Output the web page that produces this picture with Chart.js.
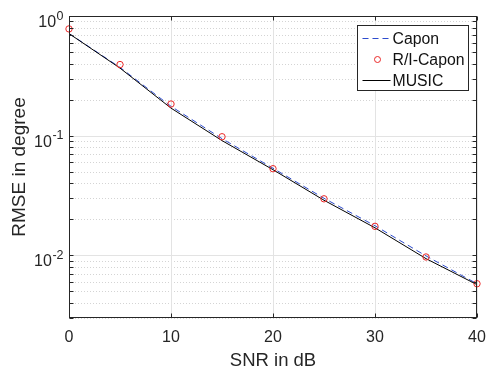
<!DOCTYPE html>
<html>
<head>
<meta charset="utf-8">
<script src="https://cdn.jsdelivr.net/npm/chart.js@4"></script>
<style>
  html, body { margin: 0; padding: 0; background: #fff; }
  #chart { display: block; }
</style>
</head>
<body>
<canvas id="chart" width="487" height="368"></canvas>
<script>
// data
const snr = [0, 5, 10, 15, 20, 25, 30, 35, 40];
const capon = [0.715, 0.372, 0.176, 0.0945, 0.0535, 0.0300, 0.0177, 0.0099, 0.0058];
const riCapon = [0.78, 0.393, 0.184, 0.098, 0.053, 0.0297, 0.0175, 0.0097, 0.0058];
const music = [0.713, 0.367, 0.170, 0.091, 0.052, 0.0289, 0.0170, 0.0094, 0.0057];
const xTicks = [0, 10, 20, 30, 40];
const yDecades = [-2, -1, 0];

const FONT = '"Liberation Sans", Arial, Helvetica, sans-serif';
const AXIS = '#262626';

function toPoints(xs, ys) {
  return xs.map((x, i) => ({ x: x, y: ys[i] }));
}

// minor log positions (2..9 x decade) inside the axis range
function minorValues(scale) {
  const out = [];
  for (let d = -3; d <= 0; d++) {
    for (let m = 2; m <= 9; m++) {
      const v = m * Math.pow(10, d);
      if (v >= scale.min && v <= scale.max) out.push(v);
    }
  }
  return out;
}

// grid, ticks, labels, legend in matlab style
const matlabAxes = {
  id: 'matlabAxes',
  beforeDatasetsDraw(chart) {
    const ctx = chart.ctx;
    const area = chart.chartArea;
    const xs = chart.scales.x;
    const ys = chart.scales.y;
    ctx.save();
    // minor grid (dotted)
    ctx.strokeStyle = '#d4d4d4';
    ctx.lineWidth = 1;
    ctx.setLineDash([1, 2]);
    minorValues(ys).forEach(v => {
      const py = Math.round(ys.getPixelForValue(v)) + 0.5;
      ctx.beginPath();
      ctx.moveTo(area.left, py);
      ctx.lineTo(area.right, py);
      ctx.stroke();
    });
    // major grid
    ctx.setLineDash([]);
    ctx.strokeStyle = '#e3e3e3';
    yDecades.forEach(d => {
      const py = Math.round(ys.getPixelForValue(Math.pow(10, d))) + 0.5;
      ctx.beginPath();
      ctx.moveTo(area.left, py);
      ctx.lineTo(area.right, py);
      ctx.stroke();
    });
    xTicks.forEach(v => {
      const px = Math.round(xs.getPixelForValue(v)) + 0.5;
      ctx.beginPath();
      ctx.moveTo(px, area.top);
      ctx.lineTo(px, area.bottom);
      ctx.stroke();
    });
    ctx.restore();
  },
  afterDatasetsDraw(chart) {
    const ctx = chart.ctx;
    const area = chart.chartArea;
    const xs = chart.scales.x;
    const ys = chart.scales.y;
    const L = Math.round(area.left) + 0.5, R = Math.round(area.right) - 0.5;
    const T = Math.round(area.top) + 0.5, B = Math.round(area.bottom) - 0.5;
    ctx.save();
    ctx.strokeStyle = AXIS;
    ctx.lineWidth = 1;
    ctx.strokeRect(L, T, R - L, B - T);
    // tick marks pointing inwards
    const yTickVals = minorValues(ys).concat(yDecades.map(d => Math.pow(10, d)));
    yTickVals.forEach(v => {
      const py = Math.round(ys.getPixelForValue(v)) + 0.5;
      ctx.beginPath();
      ctx.moveTo(L, py); ctx.lineTo(L + 4, py);
      ctx.moveTo(R, py); ctx.lineTo(R - 4, py);
      ctx.stroke();
    });
    xTicks.forEach(v => {
      const px = Math.round(xs.getPixelForValue(v)) + 0.5;
      ctx.beginPath();
      ctx.moveTo(px, B); ctx.lineTo(px, B - 4);
      ctx.moveTo(px, T); ctx.lineTo(px, T + 4);
      ctx.stroke();
    });

    // tick labels
    ctx.fillStyle = AXIS;
    ctx.font = '16px ' + FONT;
    ctx.textAlign = 'center';
    ctx.textBaseline = 'alphabetic';
    xTicks.forEach(v => {
      ctx.fillText(String(v), xs.getPixelForValue(v), 342);
    });
    yDecades.forEach(d => {
      const py = ys.getPixelForValue(Math.pow(10, d));
      const exp = String(d);
      ctx.font = '12.5px ' + FONT;
      ctx.textAlign = 'right';
      const ew = ctx.measureText(exp).width;
      ctx.fillText(exp, 63.5, py + 3.5);
      ctx.font = '16px ' + FONT;
      ctx.fillText('10', 63.5 - ew - 0.5, py + 11);
    });

    // axis titles
    ctx.font = '18.5px ' + FONT;
    ctx.textAlign = 'center';
    ctx.fillText('SNR in dB', (area.left + area.right) / 2, 366);
    ctx.save();
    ctx.translate(25, (area.top + area.bottom) / 2);
    ctx.rotate(-Math.PI / 2);
    ctx.font = '19px ' + FONT;
    ctx.fillText('RMSE in degree', 0, 0);
    ctx.restore();

    // legend
    const bx = 357.5, by = 25.5, bw = 111, bh = 65;
    ctx.fillStyle = '#fff';
    ctx.fillRect(bx, by, bw, bh);
    ctx.strokeStyle = '#262626';
    ctx.strokeRect(bx, by, bw, bh);
    const rows = [38.5, 59.5, 80.5];
    ctx.font = '15.8px ' + FONT;
    ctx.textAlign = 'left';
    chart.data.datasets.forEach((ds, i) => {
      const y = rows[i];
      ctx.save();
      if (ds.showLine === false) {
        ctx.strokeStyle = ds.pointBorderColor;
        ctx.lineWidth = 1;
        ctx.beginPath();
        ctx.arc(377.5, y, 3, 0, Math.PI * 2);
        ctx.stroke();
      } else {
        ctx.strokeStyle = ds.borderColor;
        ctx.lineWidth = ds.borderWidth;
        ctx.setLineDash(ds.borderDash || []);
        ctx.beginPath();
        ctx.moveTo(362.5, y);
        ctx.lineTo(390.5, y);
        ctx.stroke();
      }
      ctx.restore();
      ctx.fillStyle = '#111';
      ctx.fillText(ds.label, 392.5, y + 5.5);
    });
    ctx.restore();
  }
};

new Chart(document.getElementById('chart'), {
  type: 'scatter',
  data: {
    datasets: [
      {
        label: 'Capon',
        data: toPoints(snr, capon),
        showLine: true,
        borderColor: 'rgb(45, 75, 205)',
        borderWidth: 1,
        borderDash: [6, 4],
        pointRadius: 0,
        clip: false,
        order: 3
      },
      {
        label: 'R/I-Capon',
        data: toPoints(snr, riCapon),
        showLine: false,
        pointStyle: 'circle',
        pointRadius: 3.2,
        pointBorderWidth: 1,
        pointBorderColor: 'rgb(235, 40, 40)',
        pointBackgroundColor: 'rgba(0,0,0,0)',
        clip: false,
        order: 1
      },
      {
        label: 'MUSIC',
        data: toPoints(snr, music),
        showLine: true,
        borderColor: '#000',
        borderWidth: 1,
        pointRadius: 0,
        clip: false,
        order: 2
      }
    ]
  },
  options: {
    responsive: false,
    devicePixelRatio: 1,
    animation: false,
    layout: { padding: { left: 69, right: 10, top: 16, bottom: 50 } },
    plugins: {
      legend: { display: false },
      tooltip: { enabled: false }
    },
    scales: {
      x: {
        type: 'linear',
        display: false,
        min: 0,
        max: 40
      },
      y: {
        type: 'logarithmic',
        display: false,
        min: 0.003,
        max: 1
      }
    }
  },
  plugins: [matlabAxes]
});
</script>
</body>
</html>
